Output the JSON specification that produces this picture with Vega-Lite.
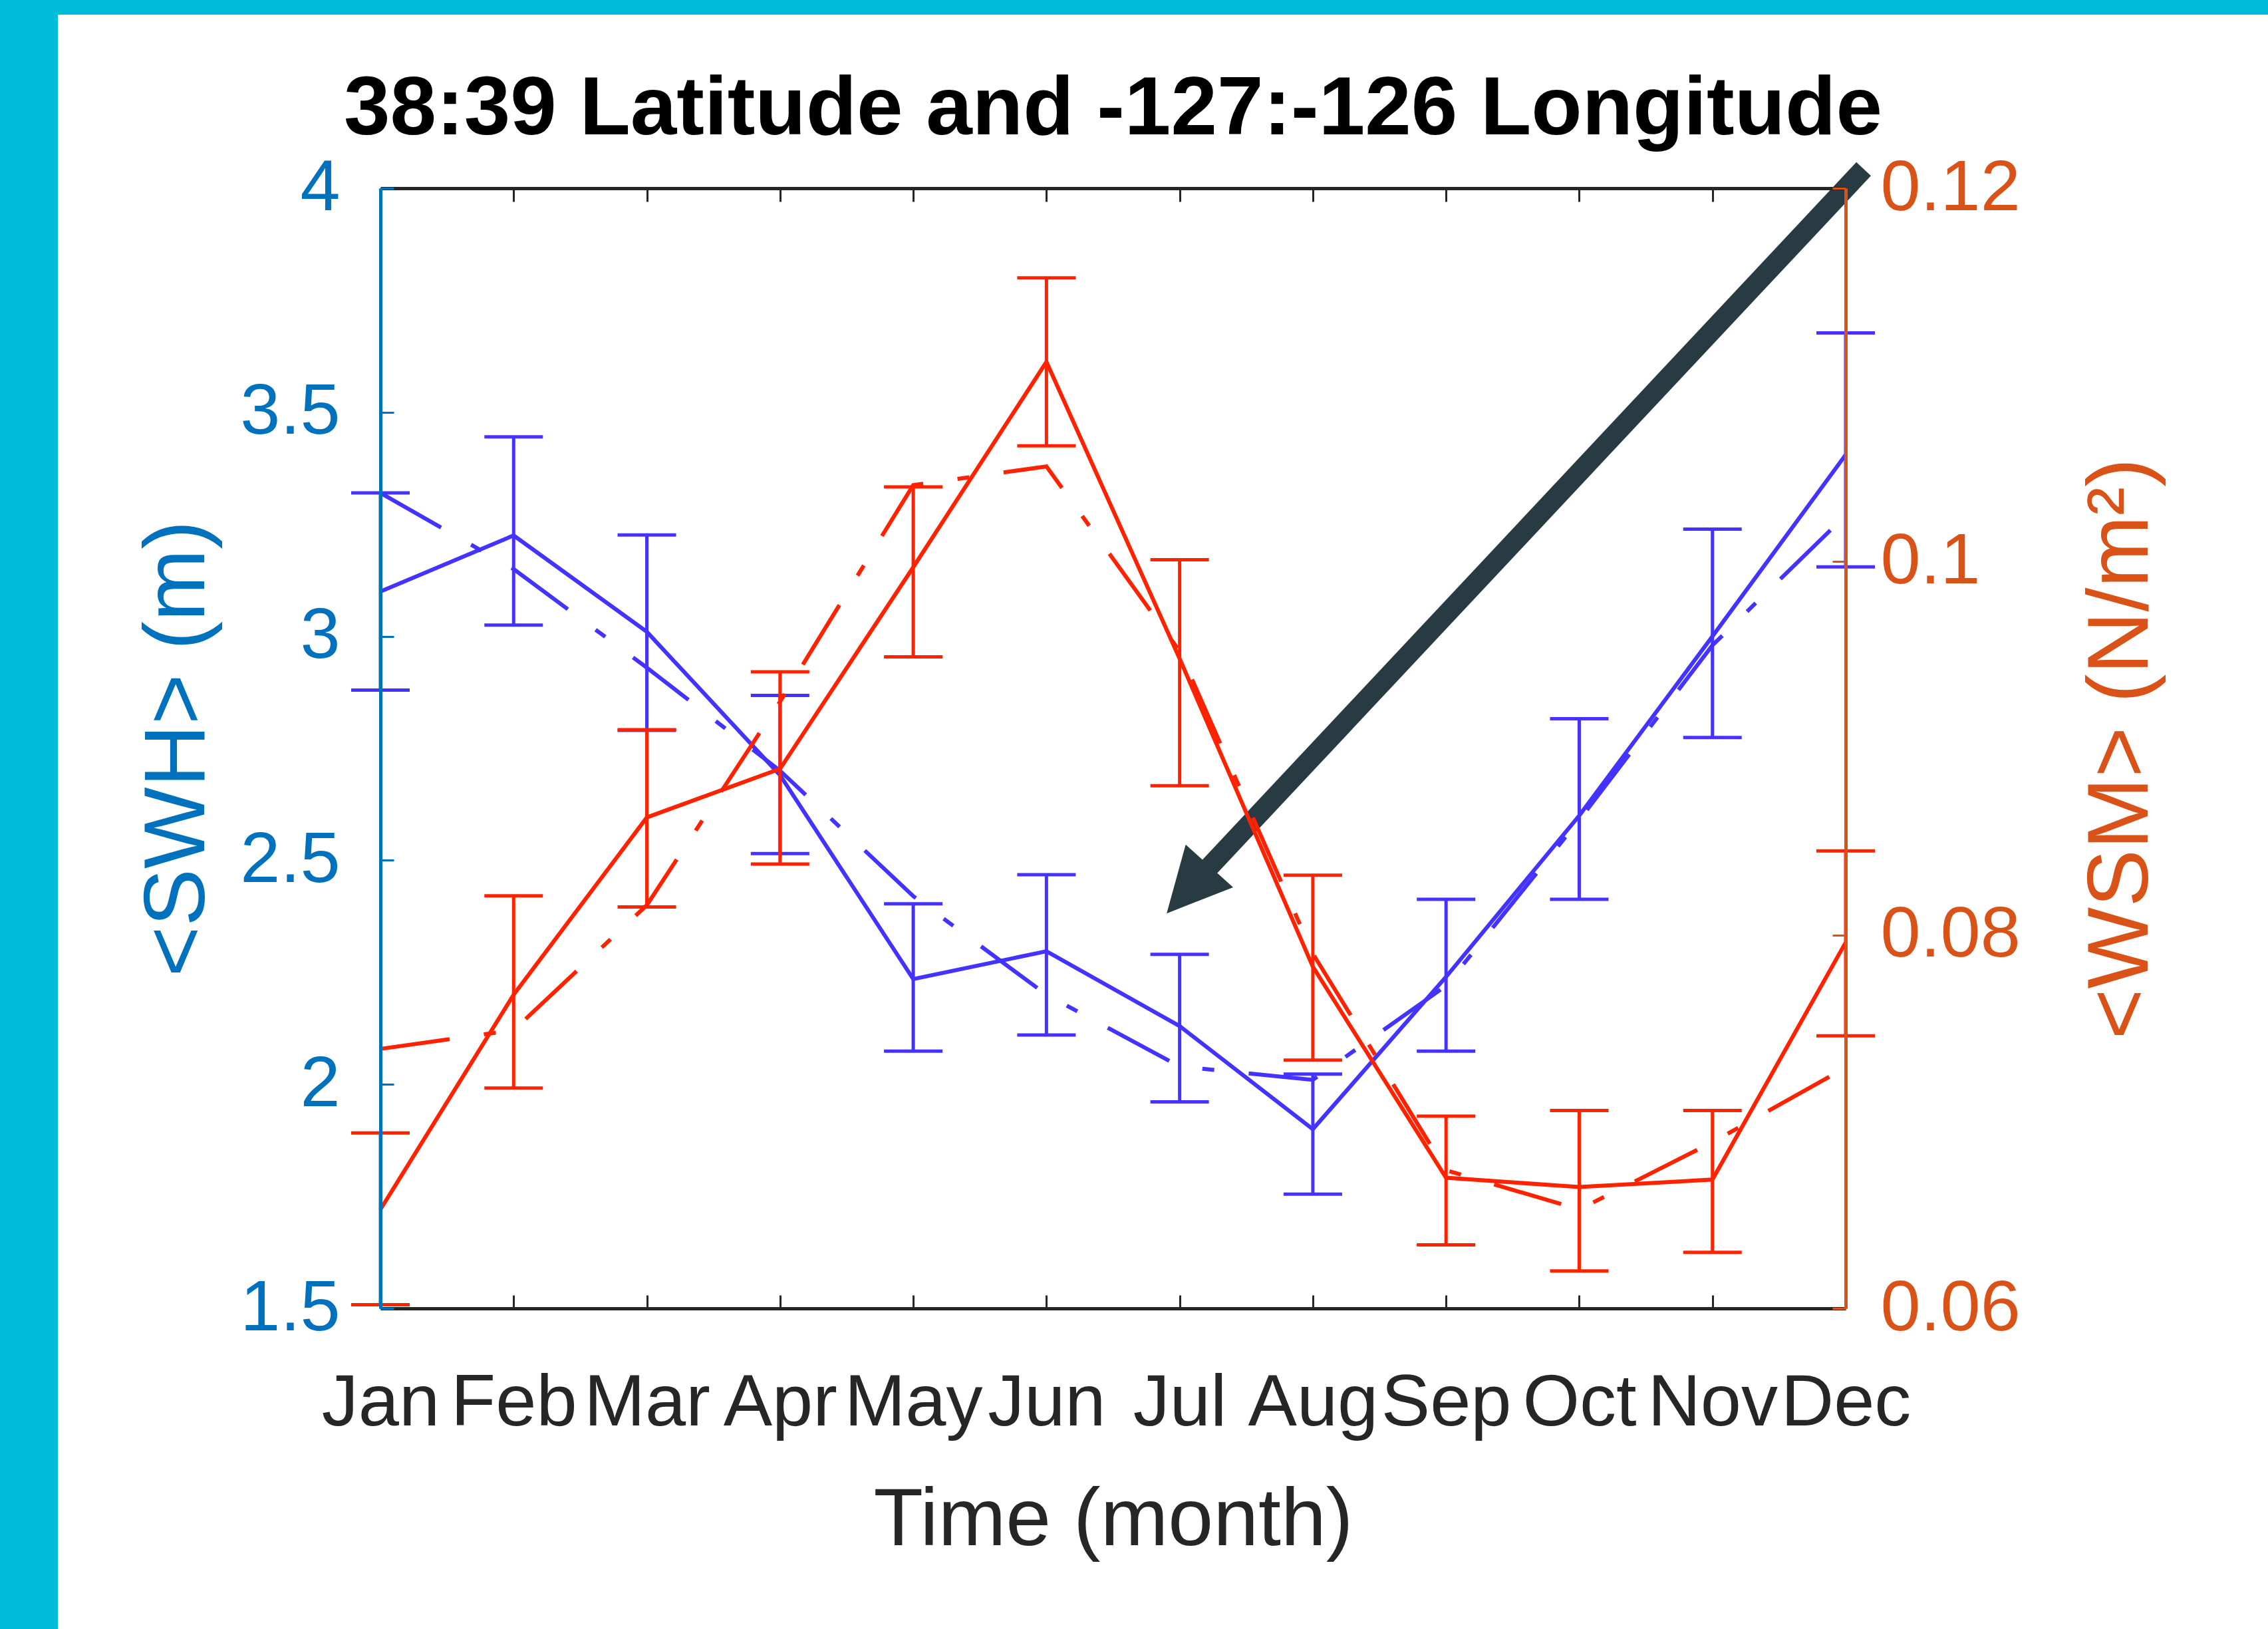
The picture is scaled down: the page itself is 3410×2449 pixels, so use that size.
{
  "$schema": "https://vega.github.io/schema/vega-lite/v6.json",
  "width": 2203,
  "height": 1684,
  "autosize": {"type": "none"},
  "padding": {"left": 572, "top": 283, "right": 635, "bottom": 482},
  "background": "#00BCD9",
  "title": {"text": "38:39 Latitude and -127:-126 Longitude", "fontSize": 125, "fontWeight": "bold", "font": "Liberation Sans", "color": "#000000", "anchor": "middle", "frame": "group", "baseline": "alphabetic", "offset": 0, "dy": 305},
  "config": {
    "font": "Liberation Sans",
    "view": {"stroke": null},
    "axis": {"zindex": 1, "grid": false, "labelOverlap": false, "labelFlush": false, "labelLimit": 2000, "tickSize": -20, "tickWidth": 3, "domainWidth": 5, "titleFontWeight": "normal", "labelFont": "Liberation Sans", "titleFont": "Liberation Sans"}
  },
  "datasets": {
    "annot": [{"x1": 12.135, "y1": 4.043, "x2": 7.063, "y2": 2.4345}],
    "swh": [
      {"m": 1, "v": 3.10, "lo": 2.88, "hi": 3.32, "fit": 3.32},
      {"m": 2, "v": 3.225, "lo": 3.025, "hi": 3.445, "fit": 3.15},
      {"m": 3, "v": 3.01, "lo": 2.79, "hi": 3.226, "fit": 2.93},
      {"m": 4, "v": 2.69, "lo": 2.515, "hi": 2.868, "fit": 2.70},
      {"m": 5, "v": 2.235, "lo": 2.074, "hi": 2.403, "fit": 2.42},
      {"m": 6, "v": 2.297, "lo": 2.11, "hi": 2.468, "fit": 2.20},
      {"m": 7, "v": 2.13, "lo": 1.961, "hi": 2.29, "fit": 2.04},
      {"m": 8, "v": 1.90, "lo": 1.755, "hi": 2.023, "fit": 2.01},
      {"m": 9, "v": 2.24, "lo": 2.074, "hi": 2.413, "fit": 2.22},
      {"m": 10, "v": 2.60, "lo": 2.413, "hi": 2.816, "fit": 2.59},
      {"m": 11, "v": 3.00, "lo": 2.774, "hi": 3.239, "fit": 2.98},
      {"m": 12, "v": 3.405, "lo": 3.155, "hi": 3.677, "fit": 3.27}
    ],
    "wsm": [
      {"m": 1, "v": 0.0653, "lo": 0.0602, "hi": 0.0694, "fit": 0.0739},
      {"m": 2, "v": 0.0768, "lo": 0.0718, "hi": 0.0821, "fit": 0.0749},
      {"m": 3, "v": 0.0863, "lo": 0.0815, "hi": 0.0910, "fit": 0.0816},
      {"m": 4, "v": 0.0889, "lo": 0.0838, "hi": 0.0941, "fit": 0.0925},
      {"m": 5, "v": 0.0997, "lo": 0.0949, "hi": 0.1040, "fit": 0.1041},
      {"m": 6, "v": 0.1107, "lo": 0.1062, "hi": 0.1152, "fit": 0.1051},
      {"m": 7, "v": 0.0948, "lo": 0.0880, "hi": 0.1001, "fit": 0.0952},
      {"m": 8, "v": 0.0783, "lo": 0.0733, "hi": 0.0832, "fit": 0.0790},
      {"m": 9, "v": 0.0670, "lo": 0.0634, "hi": 0.0703, "fit": 0.0674},
      {"m": 10, "v": 0.0665, "lo": 0.0620, "hi": 0.0706, "fit": 0.0653},
      {"m": 11, "v": 0.0669, "lo": 0.0630, "hi": 0.0706, "fit": 0.0689},
      {"m": 12, "v": 0.0796, "lo": 0.0746, "hi": 0.0845, "fit": 0.0729}
    ]
  },
  "resolve": {"scale": {"y": "independent"}, "axis": {"x": "independent"}},
  "layer": [
    {
      "data": {"name": "swh"},
      "encoding": {
        "x": {"field": "m", "type": "quantitative", "scale": {"domain": [1, 12], "nice": false, "zero": false},
          "axis": {"orient": "bottom", "zindex": 2, "values": [1, 2, 3, 4, 5, 6, 7, 8, 9, 10, 11, 12],
            "labelExpr": "['Jan','Feb','Mar','Apr','May','Jun','Jul','Aug','Sep','Oct','Nov','Dec'][datum.value - 1]",
            "labelFontSize": 110, "labelColor": "#262626", "labelPadding": 108,
            "domainColor": "#262626", "tickColor": "#262626",
            "title": "Time (month)", "titleFontSize": 122, "titleColor": "#262626", "titlePadding": 62}}
      },
      "layer": [
        {"mark": {"type": "rect", "fill": "#ffffff", "opacity": 1},
         "encoding": {"x": {"datum": -1.4217, "type": "quantitative"}, "x2": {"datum": 16},
                      "y": {"datum": 4.3875, "type": "quantitative"}, "y2": {"datum": 0.5}}},
        {"mark": {"type": "line", "color": "#4433ff", "strokeWidth": 6, "strokeDash": [105, 52, 18, 52]},
         "encoding": {"y": {"field": "fit", "type": "quantitative"}}},
        {"mark": {"type": "line", "color": "#4433ff", "strokeWidth": 6},
         "encoding": {"y": {"field": "v", "type": "quantitative", "scale": {"domain": [1.5, 4], "nice": false, "zero": false},
           "axis": {"orient": "left", "zindex": 2, "values": [1.5, 2, 2.5, 3, 3.5, 4], "format": "~g", "labelFontSize": 108, "labelColor": "#0072BD", "labelPadding": 81,
             "domainColor": "#0072BD", "tickColor": "#0072BD", "title": "<SWH> (m)", "titleFontSize": 130, "titleColor": "#0072BD",
             "titlePadding": 39, "titleAngle": 270, "titleBaseline": "bottom"}}}},
        {"mark": {"type": "rule", "color": "#4433ff", "strokeWidth": 5},
         "encoding": {"y": {"field": "lo", "type": "quantitative"}, "y2": {"field": "hi"}}},
        {"mark": {"type": "tick", "color": "#4433ff", "orient": "horizontal", "size": 88, "thickness": 5, "opacity": 1},
         "encoding": {"y": {"field": "lo", "type": "quantitative"}}},
        {"mark": {"type": "tick", "color": "#4433ff", "orient": "horizontal", "size": 88, "thickness": 5, "opacity": 1},
         "encoding": {"y": {"field": "hi", "type": "quantitative"}}},
        {"data": {"name": "annot"}, "mark": {"type": "rule", "color": "#283b42", "strokeWidth": 30, "strokeCap": "butt", "opacity": 1},
         "encoding": {"x": {"field": "x1", "type": "quantitative"}, "y": {"field": "y1", "type": "quantitative"},
                      "x2": {"field": "x2"}, "y2": {"field": "y2"}}},
        {"data": {"name": "annot"}, "mark": {"type": "point", "shape": "M0,-1L-1,1L1,1Z", "filled": true, "size": 9216, "angle": 222, "color": "#283b42", "opacity": 1},
         "encoding": {"x": {"field": "x2", "type": "quantitative"}, "y": {"field": "y2", "type": "quantitative"}}}
      ]
    },
    {
      "data": {"name": "wsm"},
      "encoding": {
        "x": {"field": "m", "type": "quantitative", "scale": {"domain": [1, 12], "nice": false, "zero": false},
          "axis": {"orient": "top", "zindex": 2, "values": [1, 2, 3, 4, 5, 6, 7, 8, 9, 10, 11, 12], "labels": false, "title": null,
            "domainColor": "#262626", "tickColor": "#262626"}}
      },
      "layer": [
        {"mark": {"type": "line", "color": "#ff2200", "strokeWidth": 6, "strokeDash": [105, 52, 18, 52]},
         "encoding": {"y": {"field": "fit", "type": "quantitative"}}},
        {"mark": {"type": "line", "color": "#ff2200", "strokeWidth": 6},
         "encoding": {"y": {"field": "v", "type": "quantitative", "scale": {"domain": [0.06, 0.12], "nice": false, "zero": false},
           "axis": {"orient": "right", "zindex": 2, "values": [0.06, 0.08, 0.1, 0.12], "format": "~g", "labelFontSize": 108, "labelColor": "#D95319", "labelPadding": 72,
             "domainColor": "#D95319", "tickColor": "#D95319", "title": "<WSM> (N/m²)", "titleFontSize": 130, "titleColor": "#D95319",
             "titlePadding": 150, "titleAngle": 270, "titleBaseline": "top"}}}},
        {"mark": {"type": "rule", "color": "#ff2200", "strokeWidth": 5},
         "encoding": {"y": {"field": "lo", "type": "quantitative"}, "y2": {"field": "hi"}}},
        {"mark": {"type": "tick", "color": "#ff2200", "orient": "horizontal", "size": 88, "thickness": 5, "opacity": 1},
         "encoding": {"y": {"field": "lo", "type": "quantitative"}}},
        {"mark": {"type": "tick", "color": "#ff2200", "orient": "horizontal", "size": 88, "thickness": 5, "opacity": 1},
         "encoding": {"y": {"field": "hi", "type": "quantitative"}}}
      ]
    }
  ]
}
